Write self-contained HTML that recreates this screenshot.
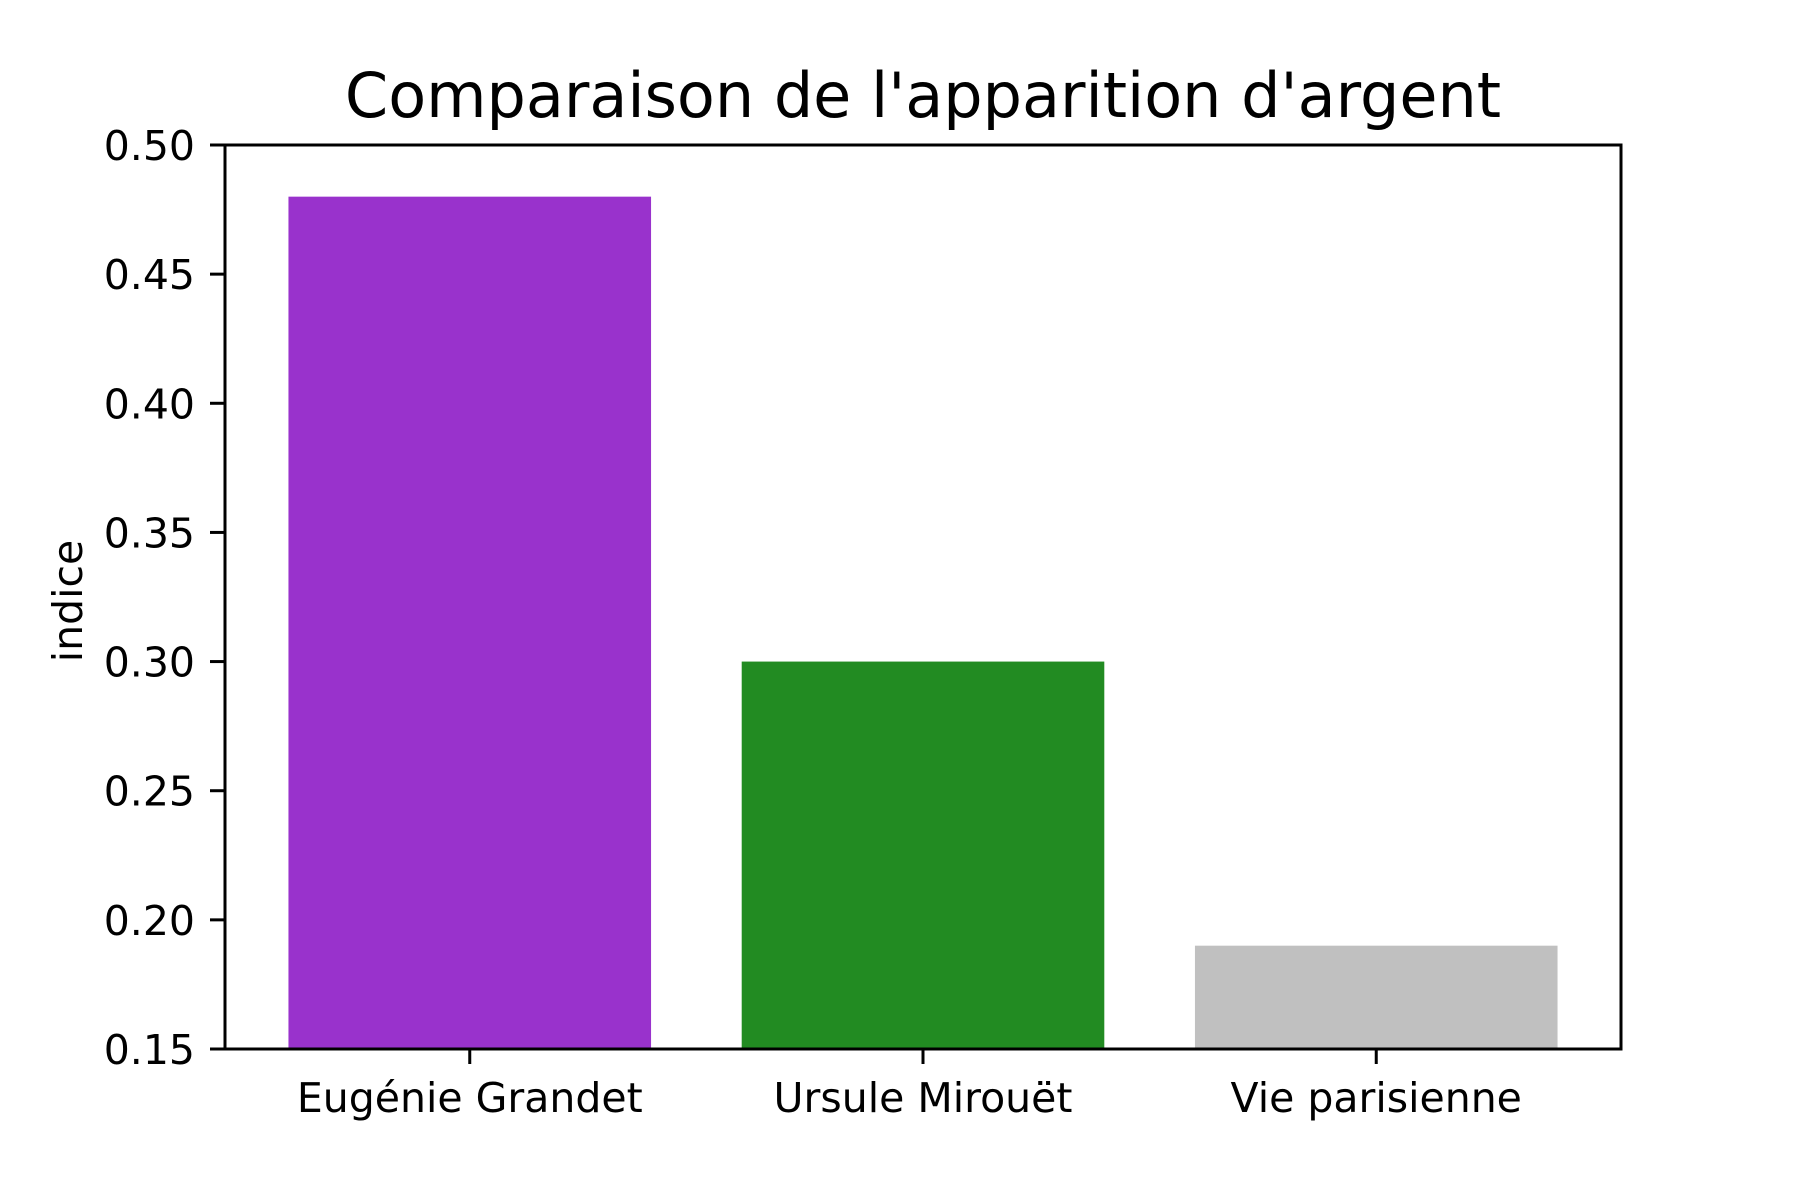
<!DOCTYPE html>
<html><head><meta charset="utf-8"><style>html,body{margin:0;padding:0;background:#fff}svg{display:block}</style></head>
<body>
<svg id="chart" width="1800" height="1200" xmlns="http://www.w3.org/2000/svg" font-family="'DejaVu Sans','Liberation Sans',sans-serif">
<rect width="1800" height="1200" fill="#fff"/>
<text x="923" y="117" font-size="62" text-anchor="middle">Comparaison de l'apparition d'argent</text>
<text transform="translate(82,601) rotate(-90)" font-size="41" text-anchor="middle">indice</text>
<g id="bars"></g><g id="axes"></g>
</svg>
<script>
const categories = ["Eugénie Grandet", "Ursule Mirouët", "Vie parisienne"];
const values = [0.48, 0.30, 0.19];
const colors = ["#9932cc", "#228b22", "#c0c0c0"];
const yTicks = [0.15, 0.20, 0.25, 0.30, 0.35, 0.40, 0.45, 0.50];
const yTickLabels = ["0.15", "0.20", "0.25", "0.30", "0.35", "0.40", "0.45", "0.50"];

const L = 225, R = 1621, T = 145, B = 1049;
const ymin = 0.15, ymax = 0.50, xmin = -0.54, xmax = 2.54;
const ys = v => B - (v - ymin) / (ymax - ymin) * (B - T);
const xs = v => L + (v - xmin) / (xmax - xmin) * (R - L);
const NS = "http://www.w3.org/2000/svg";
const bars = document.getElementById('bars'), axes = document.getElementById('axes');
function mk(tag, attrs, parent, txt) {
  const e = document.createElementNS(NS, tag);
  for (const k in attrs) e.setAttribute(k, attrs[k]);
  if (txt !== undefined) e.textContent = txt;
  parent.appendChild(e); return e;
}
values.forEach((v, i) => {
  const x0 = xs(i - 0.4), x1 = xs(i + 0.4);
  const r = mk('rect', {x: x0, y: ys(v), width: x1 - x0, height: ys(ymin) - ys(v), fill: colors[i]}, bars);
  
  
  const t = mk('line', {x1: xs(i), x2: xs(i), y1: B, y2: B + 15, stroke: '#000', 'stroke-width': 3}, axes);
  
  
  const lb = mk('text', {x: xs(i), y: 1112, 'font-size': 41, 'text-anchor': 'middle'}, axes, categories[i]);
  
  
});
yTicks.forEach((v, i) => {
  const t = mk('line', {x1: L - 15, x2: L, y1: ys(v), y2: ys(v), stroke: '#000', 'stroke-width': 3}, axes);
  
  
  const lb = mk('text', {x: L - 30, y: ys(v) + 15, 'font-size': 41, 'text-anchor': 'end'}, axes, yTickLabels[i]);
  
  
});
const frame = mk('rect', {x: L, y: T, width: R - L, height: B - T, fill: 'none', stroke: '#000', 'stroke-width': 3}, axes);


</script>
</body></html>
